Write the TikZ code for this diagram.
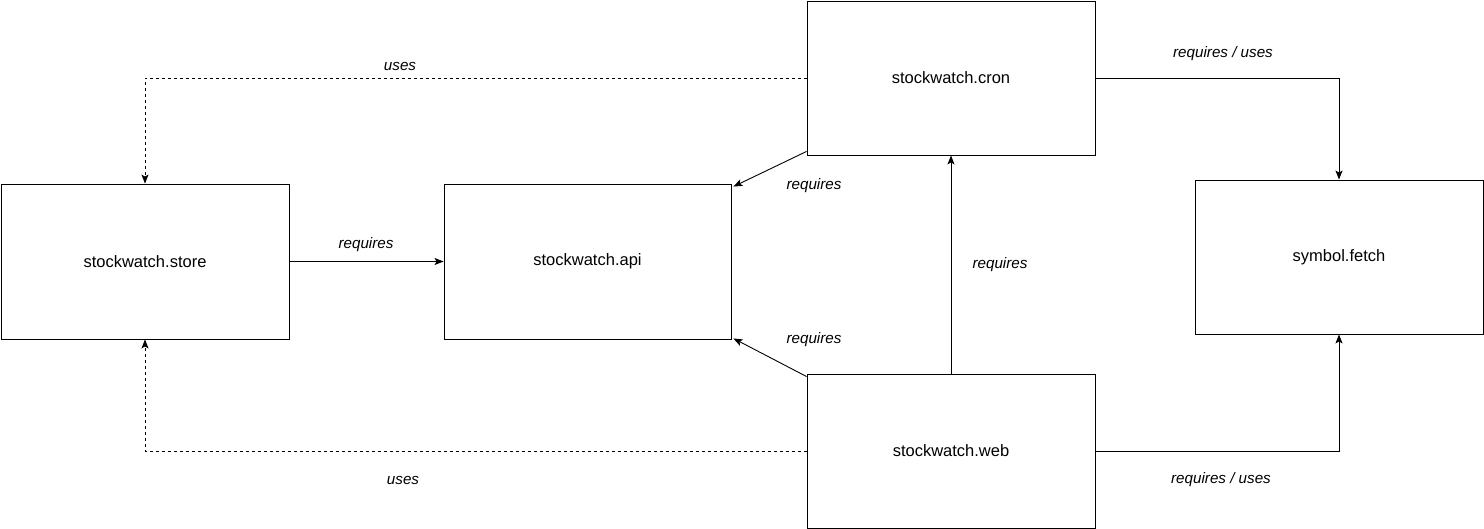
\documentclass[tikz,border=0pt]{standalone}
\usepackage{fontspec}
\setmainfont{Liberation Sans}
\usetikzlibrary{arrows.meta}
\begin{document}
\begin{tikzpicture}[x=1pt,y=-1pt,
  box/.style={draw=black,line width=0.9pt,fill=white,inner sep=0pt,font=\fontsize{16.5}{19}\selectfont},
  lbl/.style={font=\fontsize{15.2}{18}\selectfont\itshape,inner sep=0pt},
  conn/.style={draw=black,line width=0.9pt,-{Stealth[length=9pt,width=7pt,inset=2pt]}},
  dconn/.style={conn,dash pattern=on 3pt off 3pt}]
\useasboundingbox (0,0) rectangle (1484,529);
\node[box,minimum width=288pt,minimum height=155pt] (store) at (145,261.5) {\raisebox{-1.5pt}{stockwatch.store}};
\node[box,minimum width=287pt,minimum height=155pt] (api) at (587.5,261.5) {\raisebox{-1.5pt}{stockwatch.api}};
\node[box,minimum width=288pt,minimum height=154pt] (cron) at (951,78) {\raisebox{-1.5pt}{stockwatch.cron}};
\node[box,minimum width=288pt,minimum height=154pt] (web) at (951,451) {\raisebox{-1.5pt}{stockwatch.web}};
\node[box,minimum width=288pt,minimum height=154pt] (sym) at (1339,257) {\raisebox{-1.5pt}{symbol.fetch}};

\draw[conn] (store.east) -- (api.west);
\draw[dconn] (cron.west) -| (store.north);
\draw[dconn] (web.west) -| (store.south);
\draw[conn] ([yshift=4pt]cron.south west) -- ([xshift=2pt,yshift=-3pt]api.north east);
\draw[conn] ([yshift=-3pt]web.north west) -- ([xshift=2pt,yshift=1pt]api.south east);
\draw[conn] (web.north) -- (cron.south);
\draw[conn] (cron.east) -| (sym.north);
\draw[conn] (web.east) -| (sym.south);

\node[lbl] (l1) at (366,245) {requires};
\node[lbl] (l2) at (400,66) {uses};
\node[lbl] (l3) at (403,480) {uses};
\node[lbl] (l4) at (814,186) {requires};
\node[lbl] (l5) at (814,340) {requires};
\node[lbl] (l6) at (1000,265) {requires};
\node[lbl] (l7) at (1223,54) {requires / uses};
\node[lbl] (l8) at (1221,480) {requires / uses};
\end{tikzpicture}
\end{document}
